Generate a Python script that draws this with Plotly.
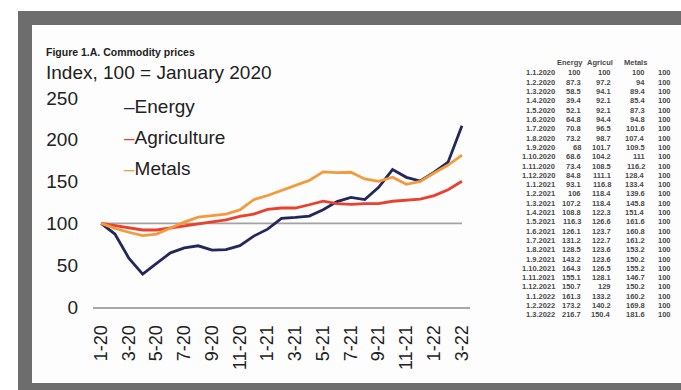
import plotly.graph_objects as go

# ---------------- data ----------------
months = ["1-20", "2-20", "3-20", "4-20", "5-20", "6-20", "7-20", "8-20", "9-20",
          "10-20", "11-20", "12-20", "1-21", "2-21", "3-21", "4-21", "5-21", "6-21",
          "7-21", "8-21", "9-21", "10-21", "11-21", "12-21", "1-22", "2-22", "3-22"]
table_dates = ["1.1.2020", "1.2.2020", "1.3.2020", "1.4.2020", "1.5.2020", "1.6.2020",
               "1.7.2020", "1.8.2020", "1.9.2020", "1.10.2020", "1.11.2020", "1.12.2020",
               "1.1.2021", "1.2.2021", "1.3.2021", "1.4.2021", "1.5.2021", "1.6.2021",
               "1.7.2021", "1.8.2021", "1.9.2021", "1.10.2021", "1.11.2021", "1.12.2021",
               "1.1.2022", "1.2.2022", "1.3.2022"]
energy = [100, 87.3, 58.5, 39.4, 52.1, 64.8, 70.8, 73.2, 68.0, 68.6, 73.4, 84.8, 93.1,
          106.0, 107.2, 108.8, 116.3, 126.1, 131.2, 128.5, 143.2, 164.3, 155.1, 150.7,
          161.3, 173.2, 216.7]
agriculture = [100, 97.2, 94.1, 92.1, 92.1, 94.4, 96.5, 98.7, 101.7, 104.2, 108.5, 111.1,
               116.8, 118.4, 118.4, 122.3, 126.6, 123.7, 122.7, 123.6, 123.6, 126.5, 128.1,
               129.0, 133.2, 140.2, 150.4]
metals = [100, 94, 89.4, 85.4, 87.3, 94.8, 101.6, 107.4, 109.5, 111, 116.2, 128.4, 133.4,
          139.6, 145.8, 151.4, 161.6, 160.8, 161.2, 153.2, 150.2, 155.2, 146.7, 150.2, 160.2,
          169.8, 181.6]
baseline = [100] * 27
tick_idx = list(range(0, 27, 2))

names = ["Energy", "Agriculture", "Metals"]
colors = ["#23275c", "#e9412d", "#f39a3f"]
series = [energy, agriculture, metals]
table_headers = ["Energy", "Agricul", "Metals"]

# ---------------- layout geometry (pixels) ----------------
W, H = 681, 390
L, R, T, B = 93, 470, 98, 307  # plot area


def px(x):
    return (x - L) / (R - L)


def py(y):
    return (B - y) / (B - T)


FONT = "Liberation Sans, Arial, sans-serif"
TXT = "#222222"

fig = go.Figure()
xs = list(range(len(months)))
fig.add_trace(go.Scatter(x=xs, y=baseline, mode="lines",
                         line=dict(color="#a3a3a3", width=1.6), hoverinfo="skip",
                         showlegend=False))
for name, col, vals in zip(names, colors, series):
    fig.add_trace(go.Scatter(x=xs, y=vals, mode="lines", name=name,
                             line=dict(color=col, width=2.8), showlegend=False))

shapes = [
    dict(type="rect", xref="paper", yref="paper", x0=px(18), x1=px(W + 5), y0=py(H + 5),
         y1=py(11), fillcolor="#6d6d6d", line=dict(width=0), layer="below"),
    dict(type="rect", xref="paper", yref="paper", x0=px(32), x1=px(W + 5), y0=py(383),
         y1=py(25), fillcolor="#fdfdfd", line=dict(width=0), layer="below"),
]

ann = []
ann.append(dict(text="<b>Figure 1.A. Commodity prices</b>", x=px(44), y=py(52),
                xref="paper", yref="paper", xanchor="left", yanchor="middle",
                showarrow=False, font=dict(family=FONT, size=10.5, color=TXT)))
ann.append(dict(text="Index, 100 = January 2020", x=px(44), y=py(73),
                xref="paper", yref="paper", xanchor="left", yanchor="middle",
                showarrow=False, font=dict(family=FONT, size=19, color=TXT)))
for k, (name, col) in enumerate(zip(names, colors)):
    ann.append(dict(text=f"<span style='color:{col}'>–</span>{name}", x=px(122),
                    y=py(106 + 31 * k), xref="paper", yref="paper", xanchor="left",
                    yanchor="middle", showarrow=False,
                    font=dict(family=FONT, size=19, color=TXT)))

# data table on the right
col_right = [557, 583, 613, 647, 673]
row0, drow = 73, 9.3
tfont = dict(family=FONT, size=7.5, color="#4a4a4a")
for j, h in enumerate(table_headers):
    ann.append(dict(text=f"<b>{h}</b>", x=px(col_right[j + 1] + 2), y=py(63),
                    xref="paper", yref="paper", xanchor="right", yanchor="middle",
                    showarrow=False, font=tfont))
for i in range(len(table_dates)):
    vals = [table_dates[i], f"{energy[i]:g}", f"{agriculture[i]:g}", f"{metals[i]:g}",
            f"{baseline[i]:g}"]
    for j, v in enumerate(vals):
        ann.append(dict(text=f"<b>{v}</b>", x=px(col_right[j]), y=py(row0 + drow * i),
                        xref="paper", yref="paper", xanchor="right", yanchor="middle",
                        showarrow=False, font=tfont))

fig.update_layout(
    width=W, height=H,
    margin=dict(l=L, r=W - R, t=T, b=H - B, pad=0),
    paper_bgcolor="white", plot_bgcolor="rgba(0,0,0,0)",
    shapes=shapes, annotations=ann, showlegend=False,
    font=dict(family=FONT, color=TXT),
)
fig.update_xaxes(range=[-0.58, 26.58], tickvals=tick_idx,
                 ticktext=[months[i] for i in tick_idx], tickangle=-90,
                 tickfont=dict(family=FONT, size=18, color=TXT),
                 showgrid=False, zeroline=False, showline=True, linecolor="#a8a8a8",
                 linewidth=2, ticks="", ticklabelstandoff=9)
fig.update_yaxes(range=[0, 250], tickvals=[0, 50, 100, 150, 200, 250],
                 tickfont=dict(family=FONT, size=19, color=TXT),
                 showgrid=False, zeroline=False, showline=False, ticks="",
                 ticklabelstandoff=14)

fig.write_html("out.html", config={"displayModeBar": False},
               post_script="document.body.style.margin='0px';"
                           "document.body.style.overflow='hidden';")
